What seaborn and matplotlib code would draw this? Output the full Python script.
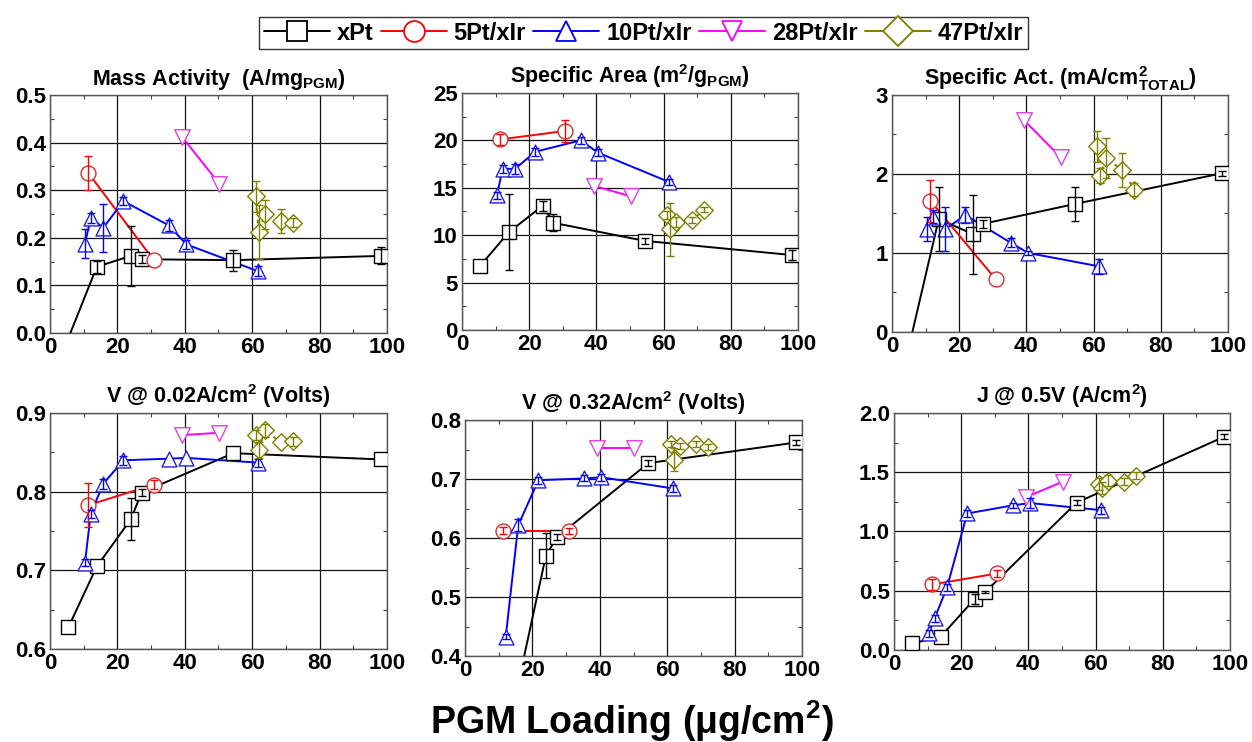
import numpy as np
import pandas as pd
import matplotlib
matplotlib.use("Agg")
import matplotlib.pyplot as plt
import seaborn as sns
from matplotlib.lines import Line2D
from matplotlib.ticker import MultipleLocator, FormatStrFormatter

# ---------------- data ----------------
SERIES = ["xPt", "5Pt/xIr", "10Pt/xIr", "28Pt/xIr", "47Pt/xIr"]

X_XPT = [5.5, 13.9, 24.0, 27.2, 54.4, 98.3]
X_5PT = [11.4, 30.8]
X_10PT = [10.4, 12.1, 15.8, 21.8, 35.3, 40.5, 61.7]
X_28PT = [39.3, 50.2]
X_47PT = [61.0, 62.0, 63.7, 68.5, 72.1]

# Mass Activity (A/mg_PGM)
MA_XPT = [-0.01, 0.139, 0.162, 0.155, 0.153, 0.162]
MA_XPT_ERR = [0, 0.012, 0.063, 0.008, 0.022, 0.018]
MA_5PT = [0.336, 0.153]
MA_5PT_ERR = [0.035, 0]
MA_10PT = [0.188, 0.242, 0.221, 0.277, 0.226, 0.186, 0.130]
MA_10PT_ERR = [0.03, 0.01, 0.05, 0.008, 0.012, 0.01, 0.01]
MA_28PT = [0.411, 0.314]
MA_28PT_ERR = [0, 0]
MA_47PT = [0.287, 0.212, 0.249, 0.235, 0.232]
MA_47PT_ERR = [0.032, 0.057, 0.03, 0.025, 0.01]

# Specific Area (m2/g_PGM)
SA_XPT = [6.8, 10.3, 13.1, 11.3, 9.4, 7.9]
SA_XPT_ERR = [0, 4.0, 0.5, 0.9, 0.3, 0.5]
SA_5PT = [20.1, 21.0]
SA_5PT_ERR = [0.6, 1.2]
SA_10PT = [14.2, 17.0, 17.0, 18.8, 20.0, 18.7, 15.6]
SA_10PT_ERR = [0.4, 0.4, 0.5, 0.4, 0.4, 0.4, 0.3]
SA_28PT = [15.2, 14.1]
SA_28PT_ERR = [0, 0]
SA_47PT = [12.1, 10.6, 11.4, 11.6, 12.7]
SA_47PT_ERR = [0.4, 2.8, 0.5, 0.3, 0.3]

# Specific Activity (mA/cm2_TOTAL)
SP_XPT = [-0.1, 1.43, 1.24, 1.37, 1.62, 2.01]
SP_XPT_ERR = [0, 0.40, 0.50, 0.05, 0.21, 0.03]
SP_5PT = [1.66, 0.67]
SP_5PT_ERR = [0.27, 0]
SP_10PT = [1.30, 1.46, 1.30, 1.48, 1.13, 1.00, 0.83]
SP_10PT_ERR = [0.15, 0.08, 0.28, 0.10, 0.06, 0.03, 0.10]
SP_28PT = [2.68, 2.21]
SP_28PT_ERR = [0, 0]
SP_47PT = [2.35, 1.98, 2.20, 2.05, 1.80]
SP_47PT_ERR = [0.20, 0.10, 0.25, 0.22, 0.08]

# V @ 0.02 A/cm2
V1_XPT = [0.628, 0.705, 0.765, 0.799, 0.849, 0.841]
V1_XPT_ERR = [0, 0, 0.027, 0.005, 0, 0]
V1_5PT = [0.783, 0.809]
V1_5PT_ERR = [0.028, 0.006]
V1_10PT = [0.710, 0.772, 0.810, 0.840, 0.842, 0.843, 0.837]
V1_10PT_ERR = [0.005, 0.005, 0.006, 0.006, 0, 0, 0.005]
V1_28PT = [0.872, 0.875]
V1_28PT_ERR = [0, 0]
V1_47PT = [0.872, 0.853, 0.878, 0.863, 0.864]
V1_47PT_ERR = [0.006, 0.01, 0.008, 0, 0.006]

# V @ 0.32 A/cm2
V2_XPT = [0.20, 0.303, 0.570, 0.601, 0.727, 0.762]
V2_XPT_ERR = [0, 0, 0.038, 0.005, 0.005, 0.005]
V2_5PT = [0.612, 0.612]
V2_5PT_ERR = [0.006, 0.005]
V2_10PT = [np.nan, 0.433, 0.622, 0.698, 0.701, 0.703, 0.684]
V2_10PT_ERR = [0, 0.005, 0.01, 0.006, 0.005, 0.006, 0.006]
V2_28PT = [0.752, 0.752]
V2_28PT_ERR = [0, 0]
V2_47PT = [0.759, 0.733, 0.756, 0.759, 0.754]
V2_47PT_ERR = [0.005, 0.02, 0.005, 0.005, 0.005]

# J @ 0.5 V
J_XPT = [0.056, 0.112, 0.43, 0.49, 1.244, 1.80]
J_XPT_ERR = [0, 0, 0.04, 0.01, 0.02, 0.02]
J_5PT = [0.553, 0.646]
J_5PT_ERR = [0.05, 0.03]
J_10PT = [0.14, 0.267, 0.528, 1.152, 1.22, 1.24, 1.18]
J_10PT_ERR = [0.03, 0.03, 0.03, 0.03, 0.02, 0.04, 0.03]
J_28PT = [1.29, 1.42]
J_28PT_ERR = [0, 0]
J_47PT = [1.40, 1.37, 1.43, 1.42, 1.47]
J_47PT_ERR = [0.05, 0.05, 0.05, 0.03, 0.03]

TITLES = [
    r"Mass Activity  (A/mg$_{PGM}$)",
    r"Specific Area (m$^2$/g$_{PGM}$)",
    r"Specific Act. (mA/cm$^2_{TOTAL}$)",
    r"V @ 0.02A/cm$^2$ (Volts)",
    r"V @ 0.32A/cm$^2$ (Volts)",
    r"J @ 0.5V (A/cm$^2$)",
]
XLABEL = "PGM Loading (μg/cm$^2$)"

# ---------------- build tidy table ----------------
XS = [X_XPT, X_5PT, X_10PT, X_28PT, X_47PT]
PANELS = [
    ([MA_XPT, MA_5PT, MA_10PT, MA_28PT, MA_47PT],
     [MA_XPT_ERR, MA_5PT_ERR, MA_10PT_ERR, MA_28PT_ERR, MA_47PT_ERR]),
    ([SA_XPT, SA_5PT, SA_10PT, SA_28PT, SA_47PT],
     [SA_XPT_ERR, SA_5PT_ERR, SA_10PT_ERR, SA_28PT_ERR, SA_47PT_ERR]),
    ([SP_XPT, SP_5PT, SP_10PT, SP_28PT, SP_47PT],
     [SP_XPT_ERR, SP_5PT_ERR, SP_10PT_ERR, SP_28PT_ERR, SP_47PT_ERR]),
    ([V1_XPT, V1_5PT, V1_10PT, V1_28PT, V1_47PT],
     [V1_XPT_ERR, V1_5PT_ERR, V1_10PT_ERR, V1_28PT_ERR, V1_47PT_ERR]),
    ([V2_XPT, V2_5PT, V2_10PT, V2_28PT, V2_47PT],
     [V2_XPT_ERR, V2_5PT_ERR, V2_10PT_ERR, V2_28PT_ERR, V2_47PT_ERR]),
    ([J_XPT, J_5PT, J_10PT, J_28PT, J_47PT],
     [J_XPT_ERR, J_5PT_ERR, J_10PT_ERR, J_28PT_ERR, J_47PT_ERR]),
]
rows = []
for p, (ys, es) in enumerate(PANELS):
    for s, name in enumerate(SERIES):
        for x, y, e in zip(XS[s], ys[s], es[s]):
            rows.append(dict(panel=p, series=name, x=x, y=y, err=e))
df = pd.DataFrame(rows)

# ---------------- style ----------------
sns.set_style("ticks")
plt.rcParams["font.family"] = ["Liberation Sans", "DejaVu Sans"]
plt.rcParams["font.weight"] = "bold"
plt.rcParams["mathtext.fontset"] = "custom"
plt.rcParams["mathtext.rm"] = "Liberation Sans:bold"
plt.rcParams["mathtext.it"] = "Liberation Sans:bold"
plt.rcParams["mathtext.bf"] = "Liberation Sans:bold"
for key in ["text.color", "axes.labelcolor", "xtick.color", "ytick.color"]:
    plt.rcParams[key] = "black"

COLORS = {"xPt": "#000000", "5Pt/xIr": "#FF0000", "10Pt/xIr": "#0000FF",
          "28Pt/xIr": "#FF00FF", "47Pt/xIr": "#808000"}
MEDGE = {"xPt": "#000000", "5Pt/xIr": "#D03030", "10Pt/xIr": "#2020E0",
         "28Pt/xIr": "#E040E0", "47Pt/xIr": "#808000"}
MARKERS = {"xPt": "s", "5Pt/xIr": "o", "10Pt/xIr": "^", "28Pt/xIr": "v", "47Pt/xIr": "D"}
MSIZE = {"xPt": 100, "5Pt/xIr": 115, "10Pt/xIr": 115, "28Pt/xIr": 125, "47Pt/xIr": 80}
LSTYLE = {"xPt": "-", "5Pt/xIr": "-", "10Pt/xIr": "-", "28Pt/xIr": "-", "47Pt/xIr": (0, (2, 4))}

YLIMS = [(0, 0.5), (0, 25), (0, 3), (0.6, 0.9), (0.4, 0.8), (0, 2.0)]
YMAJ = [0.1, 5, 1, 0.1, 0.1, 0.5]
YFMT = ["%.1f", "%d", "%d", "%.1f", "%.1f", "%.1f"]
POS = [
    [0.0399, 0.5512, 0.2692, 0.3208],
    [0.3690, 0.5553, 0.2684, 0.3194],
    [0.7125, 0.5526, 0.2684, 0.3194],
    [0.0399, 0.1253, 0.2692, 0.3180],
    [0.3714, 0.1159, 0.2692, 0.3180],
    [0.7140, 0.1240, 0.2684, 0.3194],
]

fig = plt.figure(figsize=(12.52, 7.42), dpi=100)

for p in range(6):
    ax = fig.add_axes(POS[p])
    sub = df[df.panel == p]
    lo, hi = YLIMS[p]
    for name in SERIES:
        d = sub[sub.series == name].dropna(subset=["y"]).sort_values("x")
        c = COLORS[name]
        sns.lineplot(data=d, x="x", y="y", ax=ax, color=c, lw=1.4,
                     linestyle=LSTYLE[name], estimator=None, sort=True,
                     legend=False, zorder=2)
        vis = d[(d.y >= lo) & (d.y <= hi)]
        sns.scatterplot(data=vis, x="x", y="y", ax=ax, marker=MARKERS[name],
                        s=MSIZE[name], color="white", edgecolor=MEDGE[name],
                        linewidth=1.0, legend=False, zorder=3)
        ev = vis[vis.err > 0]
        ax.errorbar(ev.x, ev.y, yerr=ev.err, fmt="none", ecolor=c,
                    elinewidth=1.0, capsize=3, capthick=1.0, zorder=4)
    ax.set_xlim(0, 100)
    ax.set_ylim(lo, hi)
    ax.xaxis.set_major_locator(MultipleLocator(20))
    ax.xaxis.set_minor_locator(MultipleLocator(10))
    ax.yaxis.set_major_locator(MultipleLocator(YMAJ[p]))
    ax.yaxis.set_minor_locator(MultipleLocator(YMAJ[p] / 2))
    ax.yaxis.set_major_formatter(FormatStrFormatter(YFMT[p]))
    ax.grid(True, which="major", color="#111111", lw=0.9)
    ax.set_axisbelow(True)
    ax.tick_params(which="both", direction="in", top=True, right=True,
                   labelsize=16, pad=3, labelcolor="black")
    ax.tick_params(which="major", length=0)
    ax.tick_params(which="minor", length=3, width=0.8, color="#444444")
    for lab in ax.get_xticklabels() + ax.get_yticklabels():
        lab.set_fontweight("bold")
    for sp in ax.spines.values():
        sp.set_color("#555555")
        sp.set_linewidth(1.0)
    ax.set_xlabel("")
    ax.set_ylabel("")
    ax.set_title(TITLES[p], fontsize=15.5, fontweight="bold", pad=7, color="black")

handles = [Line2D([0], [0], color=COLORS[n], lw=1.4, marker=MARKERS[n],
                  markersize=15, markerfacecolor="white",
                  markeredgecolor=COLORS[n], markeredgewidth=1.3)
           for n in SERIES]
leg = fig.legend(handles, SERIES, loc="upper center", bbox_to_anchor=(0.514, 0.993),
                 ncol=5, frameon=True, fancybox=False, edgecolor="black",
                 prop={"weight": "bold", "size": 17}, handlelength=2.8,
                 handletextpad=0.3, columnspacing=0.3, borderpad=0.2)
leg.get_frame().set_linewidth(1.0)

fig.text(0.505, 0.028, XLABEL, ha="center", va="center", fontsize=27,
         fontweight="bold", color="black")

fig.savefig("out.png", dpi=100)
